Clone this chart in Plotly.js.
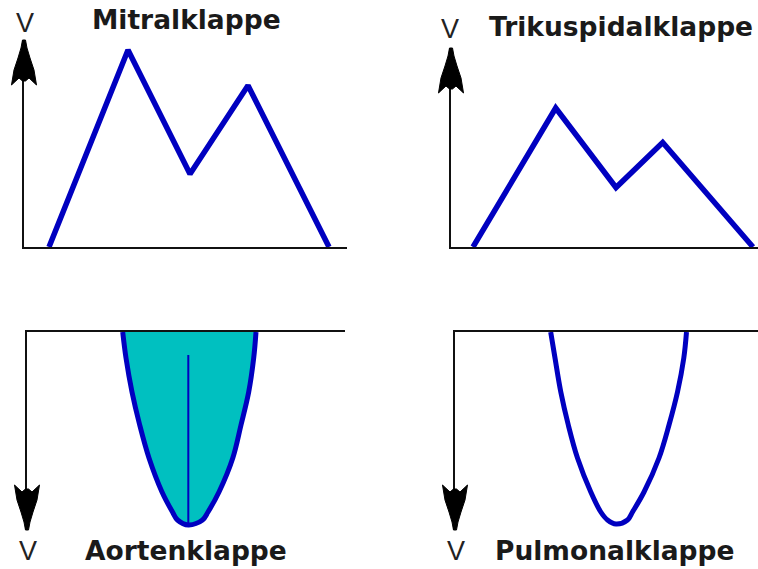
<!DOCTYPE html>
<html>
<head>
<meta charset="utf-8">
<script src="https://cdn.plot.ly/plotly-3.0.1.min.js"></script>
<style>html,body{margin:0;padding:0;background:#fff;}#chart{width:758px;height:569px;}</style>
</head>
<body>
<div id="chart"></div>
<script>
// ---- data (time units along each panel, velocity units) ----
const panelTitles = ["Mitralklappe", "Trikuspidalklappe", "Aortenklappe", "Pulmonalklappe"];
const axisLabel = "V";

// Mitral valve inflow (E and A wave)
const mitralTime = [25, 104, 166, 224, 305];
const mitralVel  = [0, 197, 73, 161.5, 0];

// Tricuspid valve inflow
const trikTime = [22, 104.7, 165, 211.7, 302];
const trikVel  = [0, 139, 59.5, 104.5, 0];

// Aortic valve outflow (velocity plotted downward)
const aortTime = [95.7, 99, 105, 112.7, 122, 135, 145.5, 150.5, 161.5, 175.5, 181, 192, 205.8, 214, 221.7, 226.7, 229];
const aortVel  = [0, 26, 60, 93, 126, 160, 180, 188, 193, 188, 180, 160, 126, 93, 60, 26, 0];
const aortPeakTime = [161.3, 161.3];
const aortPeakVel  = [23, 193];

// Pulmonary valve outflow (velocity plotted downward)
const pulmTime = [95.7, 100, 105.8, 113.3, 122.5, 135.8, 145.8, 152.5, 161, 172.5, 177.5, 189, 204, 214, 222.5, 228.8, 231.5];
const pulmVel  = [0, 26, 60, 93, 126, 160, 180, 188, 192, 188, 180, 160, 126, 93, 60, 26, 0];

// ---- layout helpers ----
const W = 758, H = 569;
const fx = p => p / W;
const fy = p => 1 - p / H;
const BLUE = "#0000c0";
const TEAL = "#00c0c0";

const traces = [
  {x: mitralTime, y: mitralVel, xaxis: "x", yaxis: "y", mode: "lines",
   line: {color: BLUE, width: 5.5}, hoverinfo: "skip"},
  {x: trikTime, y: trikVel, xaxis: "x2", yaxis: "y2", mode: "lines",
   line: {color: BLUE, width: 5.5}, hoverinfo: "skip"},
  {x: aortTime, y: aortVel, xaxis: "x3", yaxis: "y3", mode: "lines",
   line: {color: BLUE, width: 5, shape: "spline"}, fill: "tozeroy", fillcolor: TEAL, hoverinfo: "skip"},
  {x: aortPeakTime, y: aortPeakVel, xaxis: "x3", yaxis: "y3", mode: "lines",
   line: {color: BLUE, width: 2}, hoverinfo: "skip"},
  {x: pulmTime, y: pulmVel, xaxis: "x4", yaxis: "y4", mode: "lines",
   line: {color: BLUE, width: 5, shape: "spline"}, hoverinfo: "skip"}
];

function ax(domain, range, extra) {
  return Object.assign({
    domain: domain, range: range, showgrid: false, zeroline: false,
    showticklabels: false, ticks: "", showline: true, linecolor: "#111",
    linewidth: 2, fixedrange: true
  }, extra || {});
}

// arrowhead outline (px offsets: dx, distance from tip)
const headPts = [[-1.5,0],[1.5,0],[3,8],[6,18],[10,30],[12.5,45],[5,38],[1.5,41],[-1.5,41],[-5,38],[-12.5,45],[-10,30],[-6,18],[-3,8]];
function arrowHead(xPx, tipPx, dir) {
  let d = "";
  headPts.forEach((p, i) => {
    d += (i === 0 ? "M" : "L") + fx(xPx + p[0]).toFixed(5) + "," + fy(tipPx + dir * p[1]).toFixed(5);
  });
  return {type: "path", xref: "paper", yref: "paper", path: d + "Z",
          fillcolor: "#000", line: {color: "#000", width: 1}};
}

const titleFont = {family: "DejaVu Sans", size: 26.5, color: "#1a1a1a", weight: "bold"};
const vFont = {family: "Liberation Sans", size: 27, color: "#222"};
function label(text, xPx, yPx, font) {
  return {text: text, xref: "paper", yref: "paper", x: fx(xPx), y: fy(yPx),
          xanchor: "center", yanchor: "middle", showarrow: false, font: font};
}

const layout = {
  width: W, height: H, margin: {l: 0, r: 0, t: 0, b: 0},
  paper_bgcolor: "#fff", plot_bgcolor: "rgba(0,0,0,0)", showlegend: false,
  xaxis:  ax([fx(24), fx(347)], [0, 323], {anchor: "y"}),
  yaxis:  ax([fy(247), fy(40)], [0, 207], {anchor: "x"}),
  xaxis2: ax([fx(451), 1], [0, 307], {anchor: "y2"}),
  yaxis2: ax([fy(247), fy(48)], [0, 199], {anchor: "x2"}),
  xaxis3: ax([fx(27), fx(345)], [0, 318], {anchor: "y3", side: "top"}),
  yaxis3: ax([fy(530), fy(332)], [198, 0], {anchor: "x3"}),
  xaxis4: ax([fx(455), 1], [0, 303], {anchor: "y4", side: "top"}),
  yaxis4: ax([fy(530), fy(332)], [198, 0], {anchor: "x4"}),
  shapes: [
    arrowHead(24, 40, 1),
    arrowHead(451, 48, 1),
    arrowHead(27, 530, -1),
    arrowHead(455, 530, -1)
  ],
  annotations: [
    label(axisLabel, 25, 23, vFont),
    label(panelTitles[0], 186.5, 20, titleFont),
    label(axisLabel, 450, 29, vFont),
    label(panelTitles[1], 621, 26, titleFont),
    label(axisLabel, 28, 551, vFont),
    label(panelTitles[2], 186, 550, titleFont),
    label(axisLabel, 456, 551, vFont),
    label(panelTitles[3], 615, 550, titleFont)
  ]
};

Plotly.newPlot("chart", traces, layout, {displayModeBar: false, staticPlot: true});
</script>
</body>
</html>
